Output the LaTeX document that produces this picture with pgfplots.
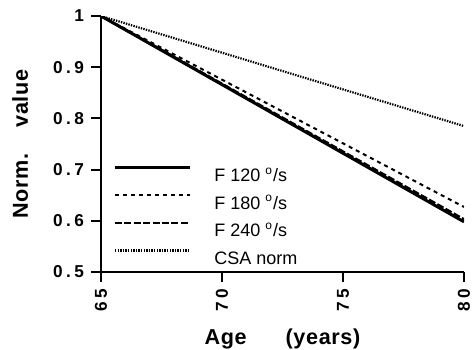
\documentclass[border=0pt]{standalone}
\usepackage{fontspec}
\setmainfont{Liberation Sans}
\newfontfamily\tickfont[LetterSpace=20]{Liberation Sans}
\newfontfamily\labelfont[LetterSpace=3]{Liberation Sans}
\usepackage{pgfplots}
\pgfplotsset{compat=1.18}
\begin{document}
\begin{tikzpicture}
\begin{axis}[
  scale only axis, width=181.5pt, height=128pt,
  xmin=65, xmax=80, ymin=0.5, ymax=1,
  axis x line*=bottom, axis y line*=left,
  xtick={65,70,75,80}, ytick={0.5,0.6,0.7,0.8,0.9,1},
  tick align=outside, major tick length=5pt,
  every tick/.style={black, line width=1pt},
  axis line style={line width=1pt},
  /pgf/number format/assume math mode=true,
  ticklabel style={font=\tickfont\fontsize{8.6}{10}\selectfont\bfseries},
  xticklabel style={rotate=90, anchor=east},
  yticklabel style={/pgf/number format/fixed},
  xlabel={Age\hspace{1.8em}(years)},
  ylabel={Norm.\hspace{1.2em}value},
  label style={font=\labelfont\fontsize{10.8}{12}\selectfont\bfseries},
  xlabel style={at={(axis description cs:0.5,-0.2617)}, anchor=center},
  ylabel style={at={(axis description cs:-0.223,0.5)}, anchor=center},
  legend image code/.code={\draw[#1] (0pt,3.8pt) -- (37.5pt,3.8pt);},
  legend style={draw=none, fill=none, inner sep=0pt,
    at={(axis description cs:0.0331,0.415)}, anchor=north west,
    font=\fontsize{9}{10.8}\selectfont,
    nodes={inner sep=0pt, text height=6.5pt, text depth=0pt},
    column sep=11.5pt, row sep=6.2pt},
  legend cell align=left,
]
\addplot[black, line width=1.5pt] coordinates {(65,1) (80,0.598)};
\addlegendentry{F 120 \textsuperscript{o}/s}
\addplot[black, line width=1pt, dash pattern=on 2pt off 2pt] coordinates {(65,1) (80,0.627)};
\addlegendentry{F 180 \textsuperscript{o}/s}
\addplot[black, line width=1.2pt, dash pattern=on 3.5pt off 1.2pt] coordinates {(65,1) (80,0.603)};
\addlegendentry{F 240 \textsuperscript{o}/s}
\addplot[black, line width=1.1pt, dash pattern=on 0.7pt off 0.6pt] coordinates {(65,1) (80,0.785)};
\addlegendentry{CSA norm}
\end{axis}
\pgfresetboundingbox
\path (current axis.south west) ++(-50.5pt,-38.5pt) rectangle ++(237.5pt,174.5pt);
\end{tikzpicture}
\end{document}
